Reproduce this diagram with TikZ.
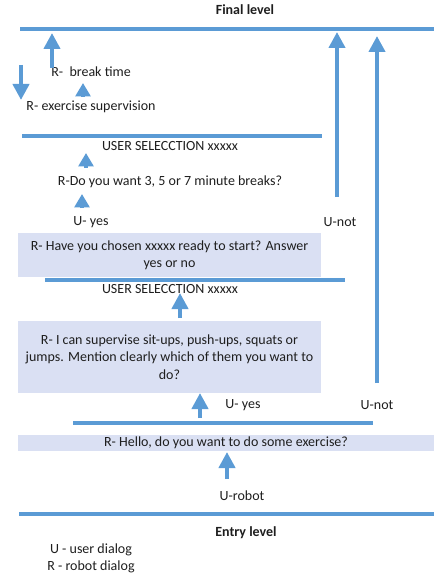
\documentclass[tikz,border=0pt]{standalone}
\usepackage{fontspec}
\setmainfont{Carlito}
\usetikzlibrary{arrows.meta}
\definecolor{lineblue}{RGB}{91,155,213}
\definecolor{boxfill}{RGB}{218,224,243}
\definecolor{txt}{RGB}{30,30,30}
\tikzset{
  lbl/.style={font=\fontsize{10.5}{13}\selectfont, text=txt, inner sep=0pt, align=center},
  title/.style={lbl, font=\fontsize{10.5}{13}\selectfont\bfseries},
  level/.style={draw=lineblue, line width=3.2pt},
  uparrow/.style={draw=lineblue, line width=3.6pt, -{Triangle[width=12pt,length=12pt]}},
  smallarrow/.style={draw=lineblue, line width=3.6pt, -{Triangle[width=11pt,length=10pt]}},
  dlgbox/.style={lbl, fill=boxfill, inner sep=0pt}
}
\begin{document}
\begin{tikzpicture}[x=0.75pt,y=-0.75pt]
\useasboundingbox (0,0) rectangle (434,577);
% level lines
\coordinate (l1a) at (20,29);  \coordinate (l1b) at (434,29);
\coordinate (l2a) at (22,136); \coordinate (l2b) at (322,136);
\coordinate (l3a) at (45,280); \coordinate (l3b) at (345,280);
\coordinate (l4a) at (73,423); \coordinate (l4b) at (373,423);
\coordinate (l5a) at (19,514); \coordinate (l5b) at (434,514);
\draw[level] (l1a) -- (l1b);
\draw[level] (l2a) -- (l2b);
\draw[level] (l3a) -- (l3b);
\draw[level] (l4a) -- (l4b);
\draw[level] (l5a) -- (l5b);
% dialog boxes
\node[dlgbox, minimum width=227.25pt, minimum height=33pt] (box1) at (169.5,255)
  {R- Have you chosen xxxxx ready to start? Answer\\yes or no};
\node[dlgbox, minimum width=227.25pt, minimum height=54pt] (box2) at (169.5,357)
  {R- I can supervise sit-ups, push-ups, squats or\\jumps. Mention clearly which of them you want to\\do?};
\node[dlgbox, minimum width=312pt, minimum height=12pt] (box3) at (226,443)
  {R- Hello, do you want to do some exercise?};
% labels
\node[title] (final) at (245,10) {Final level};
\node[lbl] (brk) at (91,72) {R-\ \ break time};
\node[lbl] (sup) at (91,107) {R- exercise supervision};
\node[lbl] (sel1) at (170,146) {USER SELECCTION xxxxx};
\node[lbl] (q357) at (170,182) {R-Do you want 3, 5 or 7 minute breaks?};
\node[lbl] (uyes1) at (91,222) {U- yes};
\node[lbl] (unot1) at (340,222) {U-not};
\node[lbl] (sel2) at (170,289) {USER SELECCTION xxxxx};
\node[lbl] (uyes2) at (243,405) {U- yes};
\node[lbl] (unot2) at (377,405) {U-not};
\node[lbl] (urobot) at (242,496) {U-robot};
\node[title] (entry) at (246,533) {Entry level};
\node[lbl] (legu) at (91,550) {U - user dialog};
\node[lbl] (legr) at (91,567) {R - robot dialog};
% arrows
\coordinate (a1s) at (52,68);  \coordinate (a1e) at (52,33);
\coordinate (a2s) at (21,65);  \coordinate (a2e) at (21,100);
\coordinate (a3s) at (83,97);  \coordinate (a3e) at (83,83);
\coordinate (a4s) at (86,168); \coordinate (a4e) at (86,153);
\coordinate (a5s) at (82,208); \coordinate (a5e) at (82,194);
\coordinate (a6s) at (337,197); \coordinate (a6e) at (337,32);
\coordinate (a7s) at (377,383); \coordinate (a7e) at (377,36);
\coordinate (a8s) at (180,318); \coordinate (a8e) at (180,293);
\coordinate (a9s) at (200,418); \coordinate (a9e) at (200,393);
\coordinate (a10s) at (227,479); \coordinate (a10e) at (227,452);
\draw[uparrow] (a1s) -- (a1e);
\draw[uparrow] (a2s) -- (a2e);
\draw[smallarrow] (a3s) -- (a3e);
\draw[smallarrow] (a4s) -- (a4e);
\draw[smallarrow] (a5s) -- (a5e);
\draw[uparrow] (a6s) -- (a6e);
\draw[uparrow] (a7s) -- (a7e);
\draw[uparrow] (a8s) -- (a8e);
\draw[uparrow] (a9s) -- (a9e);
\draw[uparrow] (a10s) -- (a10e);
\end{tikzpicture}
\end{document}
